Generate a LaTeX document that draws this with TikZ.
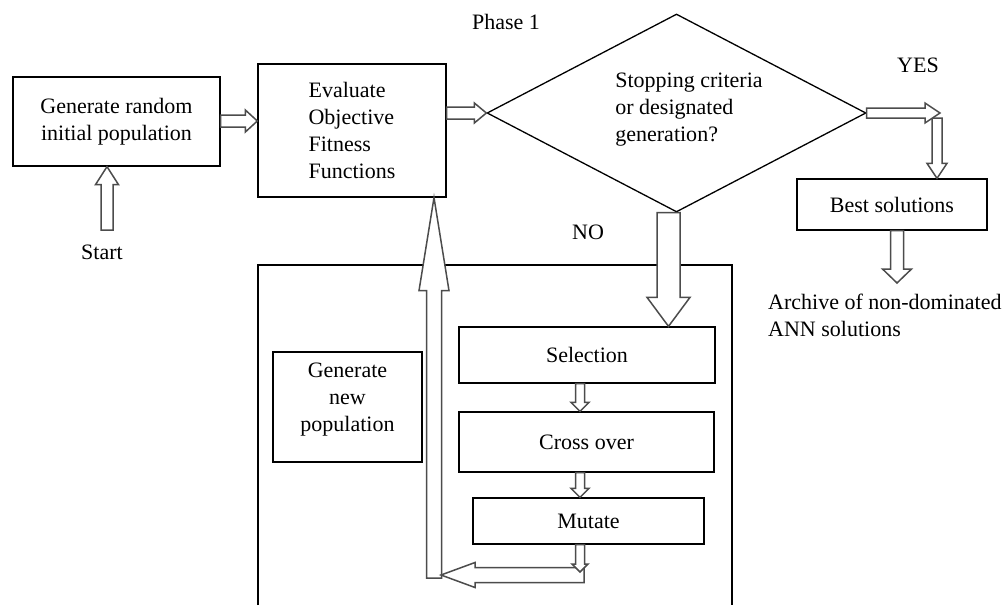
\documentclass[tikz,border=0pt]{standalone}
\usepackage{fontspec}
\setmainfont{Liberation Serif}
\usetikzlibrary{calc,shapes.geometric}
\tikzset{
  txt/.style={inner sep=0pt, font=\fontsize{22}{27}\selectfont},
  box/.style={txt, draw=black, line width=1.3pt, align=center},
  frameline/.style={draw=black, line width=1.3pt},
  arrowline/.style={draw=black!70, line width=1.5pt, fill=white, line join=miter},
}
\newcommand\harrow[5]{%
  \coordinate (ha-s) at (#1);
  \coordinate (ha-e) at (#2);
  \coordinate (ha-m) at ($(ha-e)!#5!(ha-s)$);
  \draw[arrowline] ($(ha-s)!#3!90:(ha-e)$) -- ($(ha-m)!#3!90:(ha-e)$) -- ($(ha-m)!#4!90:(ha-e)$) -- (ha-e) -- ($(ha-m)!#4!-90:(ha-e)$) -- ($(ha-m)!#3!-90:(ha-e)$) -- ($(ha-s)!#3!-90:(ha-e)$) -- cycle;
}
\begin{document}
\begin{tikzpicture}[x=1pt,y=-1pt]
\useasboundingbox[fill=white] (0,0) rectangle (1003,605);

% outer frame (open at the bottom)
\coordinate (fbl) at (258,605);
\coordinate (ftl) at (258,265);
\coordinate (ftr) at (732,265);
\coordinate (fbr) at (732,605);
\draw[frameline] (fbl) -- (ftl) -- (ftr) -- (fbr);

% boxes
\node[box, minimum width=207pt, minimum height=89pt] (box1) at (116.5,121.5) {Generate random\\initial population};
\node[box, minimum width=188pt, minimum height=133pt, align=left] (box2) at (352,130.5) {Evaluate\\Objective\\Fitness\\Functions};
\node[draw=black, line width=1.3pt, shape=diamond, aspect=1.91, minimum width=379pt, minimum height=198pt, inner sep=0pt] (dec) at (676.5,113) {};
\node[txt, align=left] (dectext) at (689,110) {Stopping criteria\\or designated\\generation?};
\node[box, minimum width=190pt, minimum height=51pt] (best) at (892,204.5) {Best solutions};
\node[box, minimum width=256pt, minimum height=56pt] (sel) at (587,355) {Selection};
\node[box, minimum width=255pt, minimum height=60pt] (cross) at (586.5,442) {Cross over};
\node[box, minimum width=231pt, minimum height=46pt] (mut) at (588.5,521) {Mutate};
\node[box, minimum width=149pt, minimum height=110pt] (gen) at (347.5,407) {Generate\\new\\population\\[-8pt]\mbox{}};

% free labels
\node[txt] (phase) at (506,22) {Phase 1};
\node[txt] (yes) at (918,65) {YES};
\node[txt] (no) at (588,232) {NO};
\node[txt] (start) at (102,252) {Start};
\node[txt, align=left, anchor=west] (archive) at (768,315) {Archive of non-dominated\\ANN solutions};

% arrows
\coordinate (s0) at (107,230);
\harrow{s0}{s0 |- box1.south}{6pt}{11.5pt}{18pt}
\coordinate (a1) at (box1.east |- 0,121);
\harrow{a1}{a1 -| box2.west}{6pt}{11pt}{12pt}
\harrow{box2.east |- dec.west}{dec.west}{6pt}{10pt}{12pt}

\coordinate (yc) at (940,113);
\coordinate (yv) at (937,118);
\harrow{yv}{yv |- best.north}{5pt}{10pt}{15pt}
\harrow{dec.east}{yc}{5pt}{10pt}{15pt}
\coordinate (bs) at ($(best.south)+(5,0)$);
\harrow{bs}{bs |- 0,283}{6.5pt}{14.5pt}{14pt}

\coordinate (ns) at ($(dec.south)+(-8,0)$);
\harrow{ns}{ns |- sel.north}{11.5pt}{21.5pt}{29pt}

\coordinate (cx) at (580,0);
\harrow{sel.south -| cx}{cross.north -| cx}{4.5pt}{9pt}{9pt}
\harrow{cross.south -| cx}{mut.north -| cx}{4.5pt}{9pt}{9pt}

\coordinate (lv) at (434,578);
\harrow{lv}{lv |- box2.south}{7.5pt}{15pt}{93pt}
\coordinate (lh1) at (584,575);
\coordinate (lh2) at (441,575);
\harrow{lh1}{lh2}{7.5pt}{12.5pt}{34pt}
\coordinate (mm) at (580,572);
\harrow{mut.south -| cx}{mm}{4.5pt}{8pt}{8pt}
\end{tikzpicture}
\end{document}
